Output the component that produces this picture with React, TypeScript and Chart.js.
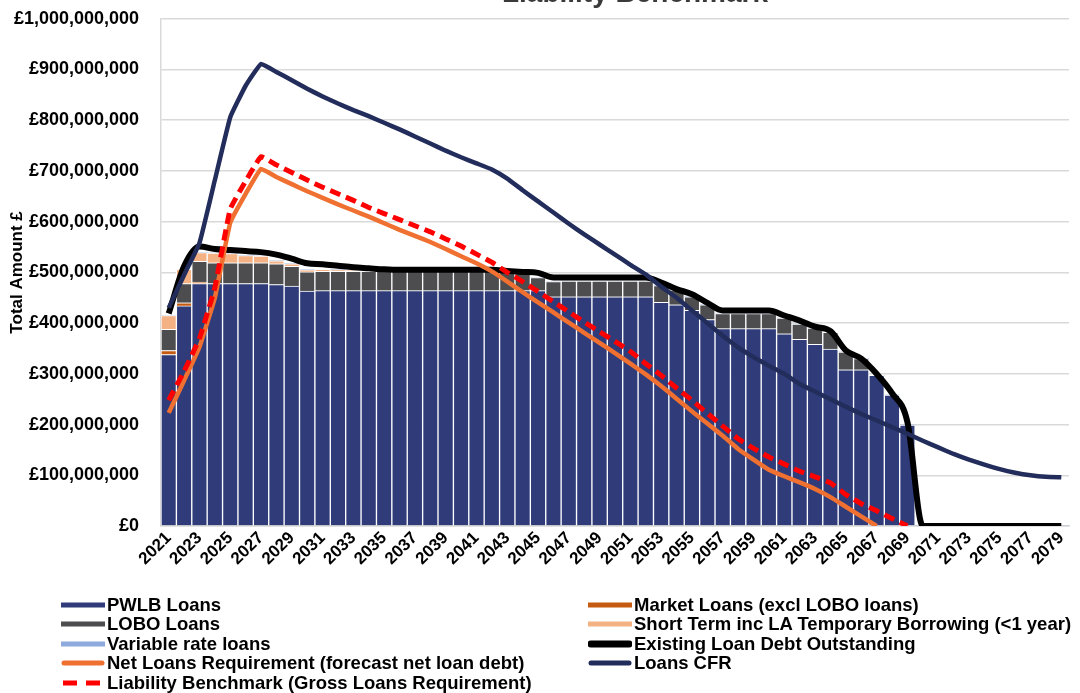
import React, { useEffect, useRef } from 'react';
import { Chart, registerables } from 'chart.js';

Chart.register(...registerables);

// ---------- DATA (values in £ millions) ----------
const YEARS = [
  '2021', '2022', '2023', '2024', '2025', '2026', '2027', '2028', '2029', '2030',
  '2031', '2032', '2033', '2034', '2035', '2036', '2037', '2038', '2039', '2040',
  '2041', '2042', '2043', '2044', '2045', '2046', '2047', '2048', '2049', '2050',
  '2051', '2052', '2053', '2054', '2055', '2056', '2057', '2058', '2059', '2060',
  '2061', '2062', '2063', '2064', '2065', '2066', '2067', '2068', '2069', '2070',
  '2071', '2072', '2073', '2074', '2075', '2076', '2077', '2078', '2079',
];

const PWLB = [
  338, 434, 478, 478, 478, 478, 478, 476, 473, 463,
  464, 464, 464, 464, 464, 464, 464, 464, 464, 464,
  464, 464, 464, 464, 464, 452, 452, 452, 452, 452,
  452, 452, 441, 436, 425, 407, 389, 389, 389, 389,
  379, 368, 358, 349, 308, 308, 297, 258, 199, 0,
  0, 0, 0, 0, 0, 0, 0, 0, 0,
];

const MARKET = [
  8, 6, 3, 0, 0, 0, 0, 0, 0, 0,
  0, 0, 0, 0, 0, 0, 0, 0, 0, 0,
  0, 0, 0, 0, 0, 0, 0, 0, 0, 0,
  0, 0, 0, 0, 0, 0, 0, 0, 0, 0,
  0, 0, 0, 0, 0, 0, 0, 0, 0, 0,
  0, 0, 0, 0, 0, 0, 0, 0, 0,
];

const LOBO = [
  42, 38, 41, 41, 41, 41, 41, 41, 39, 38,
  38, 38, 38, 38, 38, 38, 38, 38, 38, 38,
  38, 38, 38, 36, 26, 30, 31, 31, 31, 31,
  31, 31, 33, 29, 27, 29, 30, 30, 30, 30,
  31, 30, 32, 33, 35, 22, 0, 0, 0, 0,
  0, 0, 0, 0, 0, 0, 0, 0, 0,
];

const SHORT_TERM = [
  27, 28, 17, 19, 18, 14, 13, 6, 5, 4,
  4, 3, 2, 0, 0, 0, 0, 0, 0, 0,
  0, 0, 0, 0, 0, 0, 0, 0, 0, 0,
  0, 0, 0, 0, 0, 0, 0, 0, 0, 0,
  0, 0, 0, 0, 0, 0, 0, 0, 0, 0,
  0, 0, 0, 0, 0, 0, 0, 0, 0,
];

const VARIABLE = [
  0, 0, 0, 0, 0, 0, 0, 0, 0, 0,
  0, 0, 0, 0, 0, 0, 0, 0, 0, 0,
  0, 0, 0, 0, 0, 0, 0, 0, 0, 0,
  0, 0, 0, 0, 0, 0, 0, 0, 0, 0,
  0, 0, 0, 0, 0, 0, 0, 0, 0, 0,
  0, 0, 0, 0, 0, 0, 0, 0, 0,
];

const EXISTING_DEBT = [
  419, 512, 551, 546, 544, 542, 540, 535, 527, 518,
  516, 513, 510, 508, 506, 505, 505, 505, 505, 505,
  505, 505, 503, 501, 499, 490, 490, 490, 490, 490,
  490, 490, 480, 467, 457, 440, 425, 425, 425, 425,
  415, 405, 393, 384, 346, 330, 300, 262, 205, 0,
  0, 0, 0, 0, 0, 0, 0, 0, 0,
];

const NET_LOANS = [
  223, 287, 353, 450, 598, 655, 704, 688, 674, 660,
  647, 634, 622, 610, 597, 584, 572, 560, 546, 532,
  518, 502, 482, 461, 441, 421, 401, 381, 361, 341,
  320, 299, 276, 251, 226, 202, 178, 152, 131, 111,
  98, 86, 73, 57, 38, 19, 0, null, null, null,
  null, null, null, null, null, null, null, null, null,
];

const LIABILITY_BENCHMARK = [
  248, 305, 370, 470, 625, 680, 728, 712, 697, 682,
  668, 655, 642, 628, 616, 604, 592, 580, 566, 552,
  536, 520, 500, 482, 462, 442, 422, 402, 383, 364,
  344, 320, 297, 272, 248, 222, 197, 172, 153, 136,
  122, 108, 97, 85, 62, 44, 30, 15, 0, null,
  null, null, null, null, null, null, null, null, null,
];

const LOANS_CFR = [
  430, 495, 558, 682, 806, 868, 911, 895, 879, 862,
  847, 833, 820, 808, 795, 782, 768, 754, 740, 727,
  715, 703, 685, 662, 640, 618, 596, 575, 555, 535,
  515, 496, 472, 450, 425, 400, 375, 352, 333, 316,
  300, 280, 265, 250, 235, 221, 208, 195, 182, 168,
  155, 142, 131, 121, 112, 105, 100, 97, 96,
];

const Y_TICK_STEP = 100;
const Y_MAX = 1000;

// ---------- STYLE ----------
const FONT = '"Liberation Sans", Arial, Helvetica, sans-serif';
const C_PWLB = '#2F3C79';
const C_MARKET = '#C55A11';
const C_LOBO = '#4D4D4F';
const C_SHORT = '#F4B183';
const C_VAR = '#8FAADC';
const C_EXIST = '#000000';
const C_NET = '#EF7030';
const C_CFR = '#232D5B';
const C_LB = '#FF0000';
const C_GRID = '#D9D9D9';

const CANVAS_SHIFT = 14; // canvas starts above the viewport so the title is clipped

function formatPounds(millions: number): string {
  const v = Math.round(millions * 1000000);
  const s = String(v).replace(/\B(?=(\d{3})+(?!\d))/g, ',');
  return '£' + s;
}

const titlePlugin = {
  id: 'clippedTitle',
  afterDraw(chart: any) {
    const ctx = chart.ctx;
    ctx.save();
    ctx.font = `bold 28px ${FONT}`;
    ctx.fillStyle = '#3a3a3a';
    ctx.textAlign = 'center';
    ctx.textBaseline = 'alphabetic';
    ctx.fillText('Liability Benchmark', 635, CANVAS_SHIFT + 2);
    ctx.restore();
  },
};

type LegendItem = { label: string; kind: 'bar' | 'line' | 'dash'; color: string; width?: number };

const LEGEND_COL1: LegendItem[] = [
  { label: 'PWLB Loans', kind: 'bar', color: C_PWLB },
  { label: 'LOBO Loans', kind: 'bar', color: C_LOBO },
  { label: 'Variable rate loans', kind: 'bar', color: C_VAR },
  { label: 'Net Loans Requirement (forecast net loan debt)', kind: 'line', color: C_NET, width: 5 },
  { label: 'Liability Benchmark (Gross Loans Requirement)', kind: 'dash', color: C_LB, width: 5 },
];
const LEGEND_COL2: LegendItem[] = [
  { label: 'Market Loans (excl LOBO loans)', kind: 'bar', color: C_MARKET },
  { label: 'Short Term inc LA Temporary Borrowing (<1 year)', kind: 'bar', color: C_SHORT },
  { label: 'Existing Loan Debt Outstanding', kind: 'line', color: C_EXIST, width: 7 },
  { label: 'Loans CFR', kind: 'line', color: C_CFR, width: 5 },
];
const ROW_Y = [605, 624, 643.5, 663, 683];

function Swatch({ item }: { item: LegendItem }) {
  const w = 44;
  const h = 10;
  let inner: React.ReactNode;
  if (item.kind === 'bar') {
    inner = <rect x={0} y={2.5} width={w} height={5} fill={item.color} />;
  } else if (item.kind === 'line') {
    inner = (
      <line x1={3} y1={5} x2={w - 3} y2={5} stroke={item.color} strokeWidth={item.width} strokeLinecap="round" />
    );
  } else {
    inner = (
      <line x1={2} y1={5} x2={w - 2} y2={5} stroke={item.color} strokeWidth={item.width} strokeDasharray="14 9" />
    );
  }
  return (
    <svg width={w} height={h} style={{ display: 'block' }}>
      {inner}
    </svg>
  );
}

function LegendColumn({ items, swatchX, textX }: { items: LegendItem[]; swatchX: number; textX: number }) {
  return (
    <>
      {items.map((it, i) => (
        <React.Fragment key={it.label}>
          <div style={{ position: 'absolute', left: swatchX, top: ROW_Y[i] - 5 }}>
            <Swatch item={it} />
          </div>
          <div
            style={{
              position: 'absolute',
              left: textX,
              top: ROW_Y[i] - 10,
              height: 20,
              lineHeight: '20px',
              fontFamily: FONT,
              fontWeight: 'bold',
              fontSize: 18.5,
              color: '#000',
              whiteSpace: 'nowrap',
            }}
          >
            {it.label}
          </div>
        </React.Fragment>
      ))}
    </>
  );
}

export default function App() {
  const canvasRef = useRef<HTMLCanvasElement>(null);

  useEffect(() => {
    if (!canvasRef.current) return;
    const barBase = {
      type: 'bar' as const,
      borderColor: '#FFFFFF',
      borderWidth: 1,
      barPercentage: 1,
      categoryPercentage: 1,
      stack: 'bars',
      order: 10,
    };
    const lineBase = {
      type: 'line' as const,
      pointRadius: 0,
      pointHoverRadius: 0,
      fill: false,
      spanGaps: false,
    };
    const chart = new Chart(canvasRef.current, {
      data: {
        labels: YEARS,
        datasets: [
          { ...barBase, label: 'PWLB Loans', data: PWLB, backgroundColor: C_PWLB },
          { ...barBase, label: 'Market Loans (excl LOBO loans)', data: MARKET, backgroundColor: C_MARKET },
          { ...barBase, label: 'LOBO Loans', data: LOBO, backgroundColor: C_LOBO },
          { ...barBase, label: 'Short Term inc LA Temporary Borrowing (<1 year)', data: SHORT_TERM, backgroundColor: C_SHORT },
          { ...barBase, label: 'Variable rate loans', data: VARIABLE, backgroundColor: C_VAR, borderWidth: 0 },
          {
            ...lineBase,
            label: 'Existing Loan Debt Outstanding',
            data: EXISTING_DEBT,
            borderColor: C_EXIST,
            backgroundColor: C_EXIST,
            borderWidth: 6,
            cubicInterpolationMode: 'monotone',
            stack: 's_exist',
            order: 4,
          },
          {
            ...lineBase,
            label: 'Loans CFR',
            data: LOANS_CFR,
            borderColor: C_CFR,
            backgroundColor: C_CFR,
            borderWidth: 4.5,
            tension: 0.1,
            stack: 's_cfr',
            order: 3,
          },
          {
            ...lineBase,
            label: 'Net Loans Requirement (forecast net loan debt)',
            data: NET_LOANS,
            borderColor: C_NET,
            backgroundColor: C_NET,
            borderWidth: 4.5,
            tension: 0.1,
            stack: 's_net',
            order: 2,
          },
          {
            ...lineBase,
            label: 'Liability Benchmark (Gross Loans Requirement)',
            data: LIABILITY_BENCHMARK,
            borderColor: C_LB,
            backgroundColor: C_LB,
            borderWidth: 5,
            borderDash: [11, 6],
            tension: 0.1,
            stack: 's_lb',
            order: 1,
          },
        ] as any,
      },
      options: {
        responsive: false,
        animation: false,
        events: [],
        layout: { padding: { left: 0, right: 11, top: 4, bottom: 117 } },
        plugins: {
          legend: { display: false },
          tooltip: { enabled: false },
          title: { display: false },
        },
        scales: {
          x: {
            stacked: true,
            offset: true,
            grid: { display: false, drawTicks: false },
            border: { display: true, color: C_GRID, width: 1.5 },
            ticks: {
              autoSkip: false,
              maxRotation: 45,
              minRotation: 45,
              padding: 2,
              color: '#000',
              font: { family: FONT, size: 17, weight: 'bold' },
              callback: (_v: any, i: number) => (i % 2 === 0 ? YEARS[i] : ''),
            },
            afterFit: (s: any) => {
              s.height = 50;
            },
          },
          y: {
            stacked: true,
            min: 0,
            max: Y_MAX,
            grid: { color: C_GRID, lineWidth: 1.5, drawTicks: false },
            border: { display: true, color: C_GRID, width: 1.5 },
            ticks: {
              stepSize: Y_TICK_STEP,
              padding: 22,
              color: '#000',
              font: { family: FONT, size: 18, weight: 'bold' },
              callback: (v: any) => formatPounds(Number(v)),
            },
            title: {
              display: true,
              text: 'Total Amount £',
              color: '#000',
              font: { family: FONT, size: 17, weight: 'bold' },
              padding: { top: 7, bottom: 0 },
            },
            afterFit: (s: any) => {
              s.width = 161;
            },
          },
        },
      } as any,
      plugins: [titlePlugin],
    });
    return () => chart.destroy();
  }, []);

  return (
    <div
      style={{
        position: 'fixed',
        left: 0,
        top: 0,
        width: 1080,
        height: 693,
        background: '#FFFFFF',
        overflow: 'hidden',
      }}
    >
      <canvas
        ref={canvasRef}
        width={1080}
        height={693 + CANVAS_SHIFT}
        style={{ position: 'absolute', left: 0, top: -CANVAS_SHIFT, width: 1080, height: 693 + CANVAS_SHIFT }}
      />
      <LegendColumn items={LEGEND_COL1} swatchX={61} textX={107} />
      <LegendColumn items={LEGEND_COL2} swatchX={588} textX={634} />
    </div>
  );
}
